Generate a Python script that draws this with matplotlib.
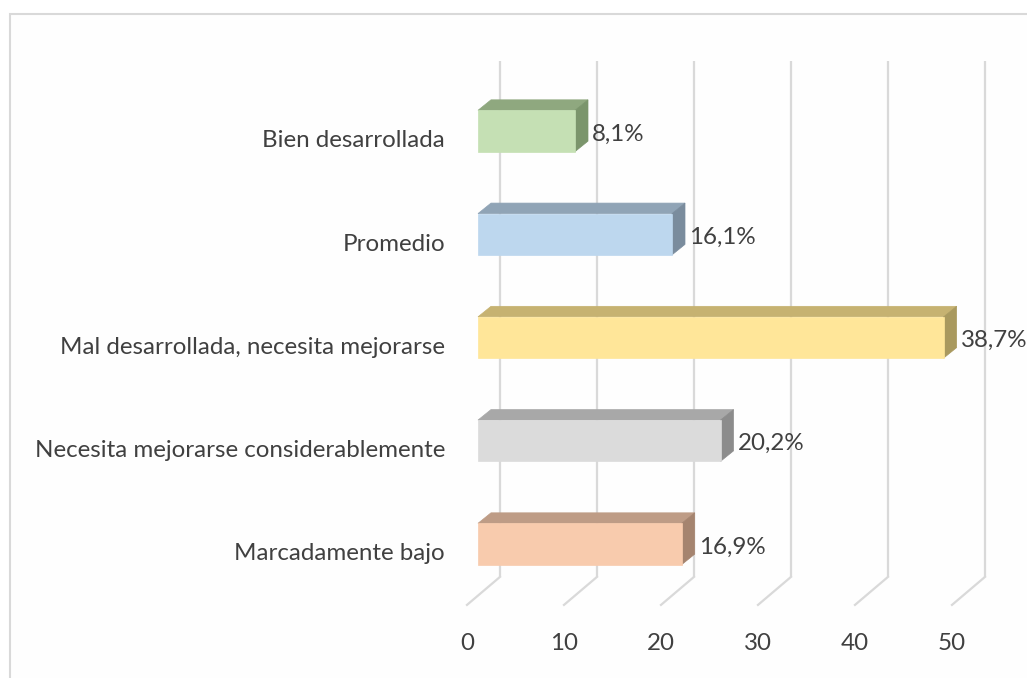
import matplotlib
matplotlib.use("Agg")
import matplotlib.pyplot as plt
from matplotlib.patches import Rectangle, Polygon
from matplotlib.transforms import offset_copy
import numpy as np

# ---- data (bottom to top) ----
categories = ["Marcadamente bajo",
              "Necesita mejorarse considerablemente",
              "Mal desarrollada, necesita mejorarse",
              "Promedio",
              "Bien desarrollada"]
counts = [21, 25, 48, 20, 10]
pct_labels = ["16,9%", "20,2%", "38,7%", "16,1%", "8,1%"]
xticks = [0, 10, 20, 30, 40, 50]
face_colors = ["#F8CBAD", "#DBDBDB", "#FFE699", "#BDD7EE", "#C5E0B4"]
top_colors = ["#BE9C86", "#A8A8A8", "#C6B271", "#90A4B6", "#8FA87F"]
side_colors = ["#A5846F", "#8C8C8C", "#A9995E", "#7A8C9D", "#7B956C"]

W, H = 1027, 678
fig = plt.figure(figsize=(W / 100, H / 100), dpi=100)
fig.patch.set_facecolor("white")

# chart frame
frame = fig.add_axes([0, 0, 1, 1])
frame.set_xlim(0, W); frame.set_ylim(H, 0); frame.axis("off")
frame.add_patch(Rectangle((9.5, 14), W, H, facecolor="#FEFEFE",
                          edgecolor="#D9D9D9", lw=1.5))

ax = fig.add_axes([478 / W, 82.4 / H, 485 / W, 516.25 / H])
ax.set_xlim(0, 50)
ax.set_ylim(-0.5, 4.5)
ax.axis("off")
ax.patch.set_alpha(0)

# depth offsets in pixels (relative to bar front plane)
BACK = (22, 18.7)
FRONT = (-11, -9.3)
BAR_D = (13, 10.5)
bh = 0.4
grid_c = "#D9D9D9"
txt_c = "#404040"
font = "Lato"
fs = 17.4

tback = offset_copy(ax.transData, fig=fig, x=BACK[0], y=BACK[1], units="dots")
tD = ax.transData

def disp(x, y, off=(0, 0)):
    p = tD.transform((x, y))
    return (p[0] + off[0], p[1] + off[1])

# back wall gridlines + floor diagonals
for v in xticks:
    ax.plot([v, v], [-0.5, 4.5], color=grid_c, lw=1.6, transform=tback,
            zorder=1, solid_capstyle="butt", clip_on=False)
    p1 = disp(v, -0.5, BACK)
    p2 = disp(v, -0.5, FRONT)
    ax.plot([p1[0], p2[0]], [p1[1], p2[1]], color=grid_c, lw=1.6,
            transform=None, zorder=1, clip_on=False)
    ax.text(v, -0.5, str(v), transform=offset_copy(tD, fig=fig, x=FRONT[0],
            y=FRONT[1] - 39, units="dots"), ha="center", va="center",
            fontsize=fs, color=txt_c, family=font)

# bars
for i, (c, v) in enumerate(zip(categories, counts)):
    y0, y1 = i - bh / 2, i + bh / 2
    fl = disp(0, y1); fr = disp(v, y1); br_ = disp(v, y0)
    top = [fl, fr, (fr[0] + BAR_D[0], fr[1] + BAR_D[1]),
           (fl[0] + BAR_D[0], fl[1] + BAR_D[1])]
    side = [br_, fr, (fr[0] + BAR_D[0], fr[1] + BAR_D[1]),
            (br_[0] + BAR_D[0], br_[1] + BAR_D[1])]
    ax.add_patch(Polygon(top, closed=True, transform=None,
                         facecolor=top_colors[i], edgecolor=top_colors[i],
                         lw=0.5, zorder=3, clip_on=False))
    ax.add_patch(Polygon(side, closed=True, transform=None,
                         facecolor=side_colors[i], edgecolor=side_colors[i],
                         lw=0.5, zorder=3, clip_on=False))
    ax.add_patch(Rectangle((0, y0), v, bh, facecolor=face_colors[i],
                           edgecolor=face_colors[i], lw=0.5, zorder=4,
                           clip_on=False))
    # value label
    ax.text(v, i, pct_labels[i], transform=offset_copy(tD, fig=fig, x=17,
            y=-3, units="dots"), ha="left", va="center", fontsize=fs,
            color=txt_c, family=font, zorder=5)
    # category label
    ax.text(0, i, c, transform=offset_copy(tD, fig=fig, x=-33, y=-10,
            units="dots"), ha="right", va="center", fontsize=fs,
            color=txt_c, family=font)

fig.savefig("out.png", dpi=100)
